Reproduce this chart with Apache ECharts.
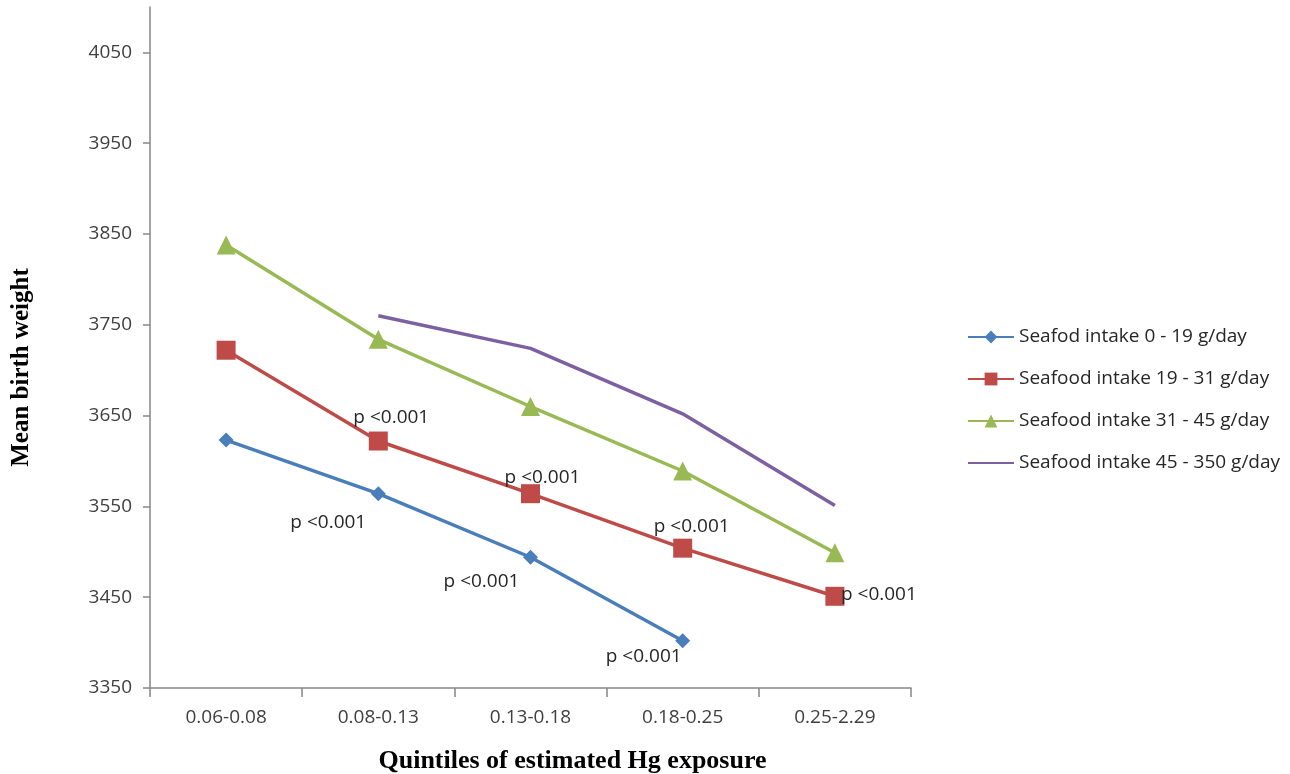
<!DOCTYPE html>
<html>
<head>
<meta charset="utf-8">
<script src="https://cdn.jsdelivr.net/npm/echarts@6/dist/echarts.min.js"></script>
<style>
  html, body { margin: 0; padding: 0; background: #fff; }
  #chart { width: 1290px; height: 774px; }
</style>
</head>
<body>
<div id="chart"></div>
<script>
  // ===== data =====
  const categories = ["0.06-0.08", "0.08-0.13", "0.13-0.18", "0.18-0.25", "0.25-2.29"];
  const yTicks = [3350, 3450, 3550, 3650, 3750, 3850, 3950, 4050];

  const seriesNames = [
    "Seafod intake 0 - 19 g/day",
    "Seafood intake 19 - 31 g/day",
    "Seafood intake 31 - 45 g/day",
    "Seafood intake 45 - 350 g/day",
  ];
  const intake0_19   = [3623, 3564, 3494, 3402, null];
  const intake19_31  = [3722, 3622, 3564, 3504, 3451];
  const intake31_45  = [3838, 3734, 3660, 3589, 3499];
  const intake45_350 = [null, 3760, 3724, 3652, 3551];

  const pText0_19   = [null, "p <0.001", "p <0.001", "p <0.001", null];
  const pText19_31  = [null, "p <0.001", "p <0.001", "p <0.001", "p <0.001"];
  const pText31_45  = [null, null, null, null, null];
  const pText45_350 = [null, null, null, "p =0.006", "p =0.001"];

  // label offsets from point centre (style only)
  const off0_19   = [null, [-50, 29], [-49, 24], [-39, 16], null];
  const off19_31  = [null, [13, -23], [12, -16], [9, -22], [44, -2]];
  const off31_45  = [null, null, null, null, null];
  const off45_350 = [null, null, null, [31, -18], [44, -8]];

  const colors = ["#4A7EBB", "#BE4B48", "#98B954", "#7D60A0"];
  const symbols = ["diamond", "rect", "triangle", "none"];
  const symbolSizes = [15, 19, 19, 0];

  const sans = "Open Sans, sans-serif";
  const serif = "Liberation Serif, Times New Roman, serif";

  function buildData(vals, texts, offs) {
    return vals.map((v, i) => {
      const item = { value: v };
      if (texts[i]) {
        item.label = {
          show: true,
          formatter: texts[i],
          position: "inside",
          offset: offs[i],
          color: "#262626",
          fontSize: 19,
          fontFamily: sans,
        };
      }
      return item;
    });
  }

  const allVals = [intake0_19, intake19_31, intake31_45, intake45_350];
  const allTexts = [pText0_19, pText19_31, pText31_45, pText45_350];
  const allOffs = [off0_19, off19_31, off31_45, off45_350];

  const series = seriesNames.map((name, k) => ({
    name,
    type: "line",
    data: buildData(allVals[k], allTexts[k], allOffs[k]),
    symbol: symbols[k],
    symbolSize: symbolSizes[k],
    showSymbol: symbols[k] !== "none",
    connectNulls: false,
    lineStyle: { color: colors[k], width: 3.5 },
    itemStyle: { color: colors[k] },
    label: { show: false },
    z: 10 - k,
  }));

  const axisGrey = "#868686";
  const textGrey = "#404040";

  const legendData = seriesNames.map((name, k) =>
    symbols[k] === "none" ? { name, itemStyle: { opacity: 0 } } : { name }
  );

  const chart = echarts.init(document.getElementById("chart"));
  chart.setOption({
    animation: false,
    backgroundColor: "#fff",
    grid: { left: 150, right: 379, top: 7, bottom: 86, containLabel: false, outerBoundsMode: "none" },
    legend: {
      orient: "vertical",
      left: 962,
      top: 321,
      itemWidth: 46,
      itemHeight: 16,
      itemGap: 20,
      textStyle: { fontSize: 19, color: "#262626", fontFamily: sans, lineHeight: 22 },
      data: legendData,
    },
    xAxis: {
      type: "category",
      data: categories,
      boundaryGap: true,
      name: "Quintiles of estimated Hg exposure",
      nameLocation: "middle",
      nameGap: 60,
      nameTextStyle: { fontSize: 26, fontWeight: "bold", fontFamily: serif, color: "#000", padding: [0, 0, 0, 84] },
      axisLine: { lineStyle: { color: axisGrey, width: 1.5 } },
      axisTick: { show: true, length: 9, lineStyle: { color: axisGrey, width: 1.5 } },
      axisLabel: { fontSize: 19, color: textGrey, margin: 20, fontFamily: sans },
      splitLine: { show: false },
    },
    yAxis: {
      type: "value",
      min: 3350,
      max: 4100,
      name: "Mean birth weight",
      nameLocation: "middle",
      nameGap: 116,
      nameRotate: 90,
      nameTextStyle: { fontSize: 25, fontWeight: "bold", fontFamily: serif, color: "#000", padding: [0, 40, 0, 0] },
      axisLine: { show: true, lineStyle: { color: axisGrey, width: 1.5 } },
      axisTick: { show: true, length: 7, customValues: yTicks, lineStyle: { color: axisGrey, width: 1.5 } },
      axisLabel: { fontSize: 19, color: textGrey, margin: 18, customValues: yTicks, fontFamily: sans, formatter: v => String(v) },
      splitLine: { show: false },
    },
    series,
  });
</script>
</body>
</html>
